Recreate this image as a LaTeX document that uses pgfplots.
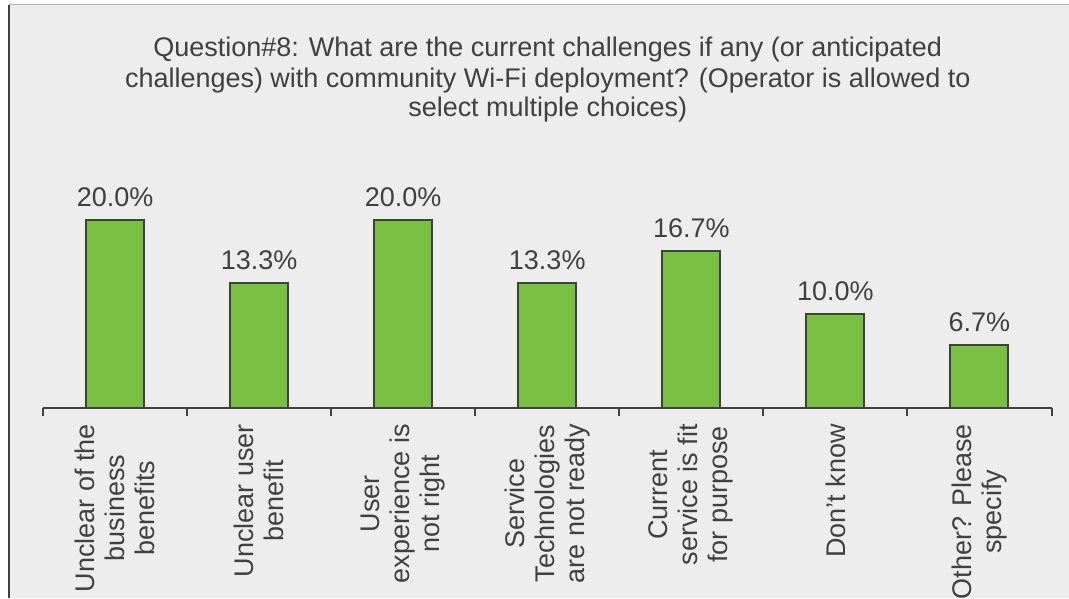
\documentclass[border=0pt]{standalone}
\usepackage{pgfplots}
\pgfplotsset{compat=1.18}
\usepackage{fontspec}
\setmainfont{Liberation Sans}
\definecolor{bg}{HTML}{EDEDED}
\definecolor{bargreen}{HTML}{7AC143}
\definecolor{ink}{HTML}{404040}

\begin{document}
\begin{tikzpicture}[font=\fontsize{13.5}{15}\selectfont]
% page frame and chart area (1 px of the reference = 0.5pt)
\fill[white] (-21.5pt,-95pt) rectangle (513pt,204pt);
\fill[bg] (-17pt,-95pt) rectangle (513pt,201.5pt);
\draw[ink, line width=1pt] (-17pt,-95pt) -- (-17pt,201.5pt);
\draw[gray!60, line width=0.5pt] (-17pt,201.5pt) -- (513pt,201.5pt);
\useasboundingbox (-21.5pt,-95pt) rectangle (513pt,204pt);

\begin{axis}[
  at={(0,0)}, anchor=south west,
  scale only axis,
  width=504.5pt, height=117.5pt,
  xmin=-0.5, xmax=6.5, ymin=0, ymax=25,
  axis x line=bottom, axis y line=none,
  x axis line style={-, ink, line width=1pt},
  ytick=\empty,
  xtick={0,...,6},
  major tick length=0pt,
  minor xtick={-0.5,0.5,...,6.5},
  minor tick length=4pt,
  tick align=outside,
  minor tick style={ink, line width=1pt},
  xticklabels={
    {Unclear of the\\business\\benefits},
    {Unclear user\\benefit},
    {User\\experience is\\not right},
    {Service\\Technologies\\are not ready},
    {Current\\service is fit\\for purpose},
    {Don't know},
    {Other? Please\\specify}},
  xticklabel style={rotate=90, anchor=east, align=center, text=ink,
    inner xsep=8pt, inner ysep=0pt},
  /pgf/number format/assume math mode=true,
  ybar, bar width=29pt,
  nodes near coords={\pgfmathprintnumber[fixed,fixed zerofill,precision=1]{\pgfplotspointmeta}\%},
  nodes near coords style={anchor=base, inner sep=0pt, yshift=6.7pt, text=ink},
  clip=false,
]
\addplot[fill=bargreen, draw=ink, line width=1pt] coordinates {
  (0,20.0) (1,13.3) (2,20.0) (3,13.3) (4,16.7) (5,10.0) (6,6.7)
};
\end{axis}

\node[anchor=base, text=ink] at (252.5pt,175.5pt) {Question\#8: What are the current challenges if any (or anticipated};
\node[anchor=base, text=ink] at (252.5pt,160pt) {challenges) with community Wi-Fi deployment? (Operator is allowed to};
\node[anchor=base, text=ink] at (252.5pt,145.5pt) {select multiple choices)};
\end{tikzpicture}
\end{document}
